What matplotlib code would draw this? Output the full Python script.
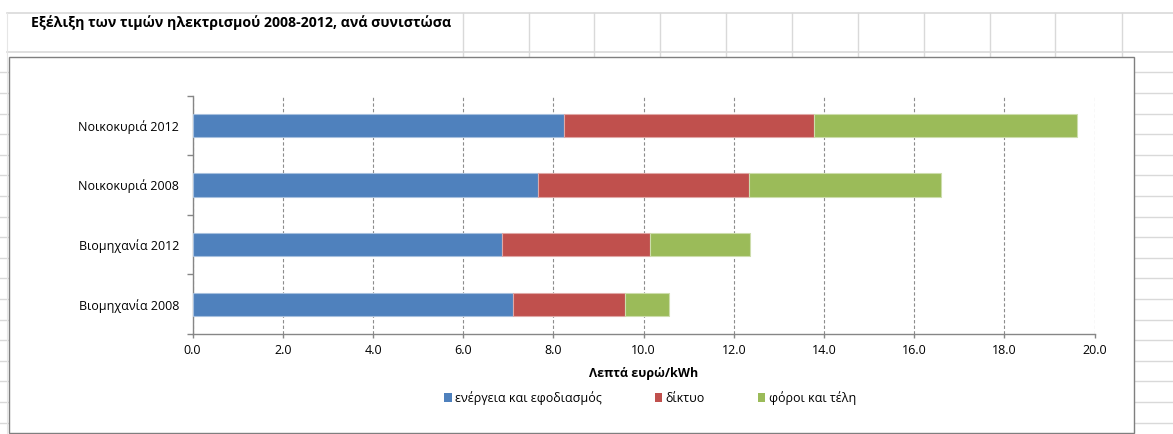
import matplotlib
matplotlib.use("Agg")
import matplotlib.pyplot as plt
from matplotlib.patches import Rectangle, Patch
from matplotlib.lines import Line2D
import numpy as np

# ---------------- data ----------------
categories = ["Βιομηχανία 2008", "Βιομηχανία 2012", "Νοικοκυριά 2008", "Νοικοκυριά 2012"]
energy = [7.11, 6.85, 7.65, 8.24]     # ενέργεια και εφοδιασμός
network = [2.48, 3.29, 4.68, 5.53]    # δίκτυο
taxes = [0.97, 2.21, 4.27, 5.84]      # φόροι και τέλη
series_names = ["ενέργεια και εφοδιασμός", "δίκτυο", "φόροι και τέλη"]
x_ticks = [0, 2, 4, 6, 8, 10, 12, 14, 16, 18, 20]
title = "Εξέλιξη των τιμών ηλεκτρισμού 2008-2012, ανά συνιστώσα"
xlabel = "Λεπτά ευρώ/kWh"

colors = ["#4F81BD", "#C0504D", "#9BBB59"]
edge_colors = ["#A7C0DE", "#E0A8A6", "#CDDDAC"]

FONT = ["Open Sans", "DejaVu Sans"]
plt.rcParams["font.family"] = FONT

W, H = 1173, 434
fig = plt.figure(figsize=(W / 100, H / 100), dpi=100)
fig.patch.set_facecolor("white")

def fx(px):
    return px / W

def fy(py):
    return 1 - py / H

# ---------------- spreadsheet background ----------------
grid_c = "#D9D9D9"
fig.add_artist(Line2D([fx(7), 1], [fy(12.7), fy(12.7)], color=grid_c, lw=1.2))
fig.add_artist(Line2D([fx(7), 1], [fy(51.7), fy(51.7)], color=grid_c, lw=1.2))
rows = np.arange(72.3, 434, 20.6)
for r in rows:
    fig.add_artist(Line2D([0, 1], [fy(r), fy(r)], color=grid_c, lw=1.0))
cols = [462.7, 528.5, 594.3, 660.0, 726.0, 792.0, 858.0, 924.0, 990.0, 1055.0, 1121.5]
for c in cols:
    fig.add_artist(Line2D([fx(c), fx(c)], [fy(12.7), 0], color=grid_c, lw=1.0))
fig.add_artist(Line2D([fx(7), fx(7)], [fy(12.7), 0], color="#E6E6E6", lw=0.8))
fig.add_artist(Rectangle((fx(7.5), fy(51.2)), fx(462.2 - 7.5), fy(13.2) - fy(51.2),
                         facecolor="white", edgecolor="none", zorder=1))
fig.text(fx(30.7), fy(23.0), title, fontsize=10.2, fontweight="bold",
         ha="left", va="center", color="black", zorder=5)

# chart area box
fig.add_artist(Rectangle((fx(9.3), fy(433)), fx(1133.6 - 9.3), fy(56.7) - fy(433),
                         facecolor="white", edgecolor="#7F7F7F", lw=1.0, zorder=2))

# ---------------- plot area ----------------
L, R, T, B = 192.6, 1094.7, 95.7, 334.0
ax = fig.add_axes([fx(L), fy(B), fx(R - L), fy(T) - fy(B)], zorder=3)
ax.set_facecolor("none")

y = np.arange(len(categories))
bh = 0.39
left = np.zeros(len(categories))
for vals, c, ec, name in zip([energy, network, taxes], colors, edge_colors, series_names):
    ax.barh(y, vals, left=left, height=bh, color=c, edgecolor=ec, linewidth=0.8,
            label=name, zorder=3)
    left = left + np.array(vals)

ax.set_xlim(0, 20)
ax.set_ylim(-0.5, len(categories) - 0.5)
ax.set_xticks(x_ticks)
ax.set_xticklabels([f"{v:.1f}" for v in x_ticks], fontsize=9.0)
ax.set_yticks(y)
ax.set_yticklabels(categories, fontsize=9.0)
ax.set_yticks(np.arange(-0.5, len(categories), 1.0), minor=True)

ax.tick_params(axis="y", which="major", length=0, pad=9.6)
ax.tick_params(axis="y", which="minor", length=4, width=1.0, color="#868686", direction="out")
ax.tick_params(axis="x", which="major", length=3, width=1.0, color="#868686",
               direction="out", pad=4.5)

for s in ["top", "right"]:
    ax.spines[s].set_visible(False)
for s in ["left", "bottom"]:
    ax.spines[s].set_color("#868686")
    ax.spines[s].set_linewidth(1.0)

ax.xaxis.grid(True, linestyle=(0, (3, 2)), color="#8C8C8C", linewidth=0.8, zorder=0)
ax.set_axisbelow(True)

fig.text(fx((L + R) / 2), fy(374), xlabel, fontsize=9.0, fontweight="bold",
         ha="center", va="center", zorder=5)

handles = [Patch(facecolor=c, edgecolor="none") for c in colors]
leg = fig.legend(handles, series_names, loc="center", bbox_to_anchor=(fx(650), fy(398)),
                 ncol=3, frameon=False, fontsize=9.0, handlelength=0.6, handleheight=0.8,
                 handletextpad=0.3, columnspacing=4.2)
leg.set_zorder(6)

fig.savefig("out.png", dpi=100, facecolor="white")
